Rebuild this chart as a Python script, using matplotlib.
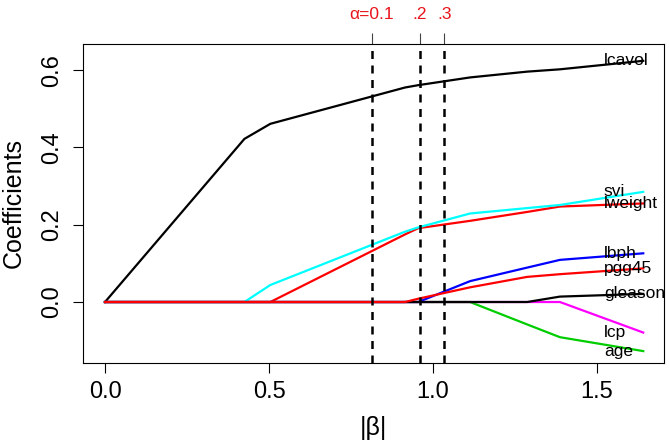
import matplotlib
matplotlib.use("Agg")
import matplotlib.pyplot as plt

plt.rcParams['font.family'] = ['Liberation Sans', 'DejaVu Sans']

# lasso / LAR path on the prostate data
beta_norm = [0, 0.425, 0.504, 0.915, 0.955, 1.113, 1.287, 1.387, 1.641]
lcavol = [0, 0.422, 0.461, 0.555, 0.561, 0.581, 0.596, 0.602, 0.624]
lweight = [0, 0, 0, 0.175, 0.191, 0.210, 0.233, 0.247, 0.255]
age = [0, 0, 0, 0, 0, 0, -0.058, -0.091, -0.127]
lbph = [0, 0, 0, 0, 0, 0.054, 0.089, 0.109, 0.126]
svi = [0, 0, 0.044, 0.182, 0.193, 0.229, 0.243, 0.251, 0.285]
lcp = [0, 0, 0, 0, 0, 0, 0, 0, -0.079]
gleason = [0, 0, 0, 0, 0, 0, 0, 0.014, 0.021]
pgg45 = [0, 0, 0, 0, 0.0085, 0.038, 0.065, 0.072, 0.087]

names = ['lcavol', 'lweight', 'age', 'lbph', 'svi', 'lcp', 'gleason', 'pgg45']
paths = [lcavol, lweight, age, lbph, svi, lcp, gleason, pgg45]
# R palette 1:6, recycled
colors = ['#000000', '#FF0000', '#00CD00', '#0000FF', '#00FFFF', '#FF00FF',
          '#000000', '#FF0000']

alpha_pos = [0.813, 0.960, 1.034]
alpha_labels = ['α=0.1', '.2', '.3']

fig = plt.figure(figsize=(6.7, 4.44), dpi=100)
ax = fig.add_axes([83 / 670, 1 - 362.7 / 444, 581 / 670, 318.7 / 444])

for vals, col in zip(paths, colors):
    ax.plot(beta_norm, vals, color=col, lw=1.6, solid_joinstyle='round')

for xv in alpha_pos:
    ax.axvline(xv, color='black', lw=1.8, linestyle=(0, (3.2, 2.6)))

label_x = 1.521
for name, vals in zip(names, paths):
    ax.text(label_x, vals[-1], name, fontsize=12.5, ha='left', va='center')

ax.set_xlim(-0.0671, 1.7043)
ax.set_ylim(-0.157, 0.6675)
ax.set_xticks([0, 0.5, 1.0, 1.5])
ax.set_xticklabels(['0.0', '0.5', '1.0', '1.5'])
ax.set_yticks([0, 0.2, 0.4, 0.6])
ax.set_yticklabels(['0.0', '0.2', '0.4', '0.6'])
ax.tick_params(length=7.2, width=0.8, labelsize=17, direction='out')
ax.tick_params(axis='x', pad=6)
ax.tick_params(axis='y', pad=7)
for t in ax.get_yticklabels():
    t.set_rotation(90)
    t.set_va('center')
for sp in ax.spines.values():
    sp.set_linewidth(0.8)

ax.set_xlabel('|β|', fontsize=18)
ax.xaxis.set_label_coords(0.5, -0.205)
ax.xaxis.label.set_va('center')
ax.set_ylabel('Coefficients', fontsize=18)
ax.yaxis.set_label_coords(-0.119, 0.5)
ax.yaxis.label.set_va('center')

top = ax.secondary_xaxis('top')
top.set_xticks(alpha_pos)
top.set_xticklabels(alpha_labels)
top.tick_params(length=8, width=0.8, labelsize=12.5, labelcolor='#E8141B',
                color='#444444', pad=8)
top.spines['top'].set_visible(False)

fig.savefig('out.png', dpi=100)
